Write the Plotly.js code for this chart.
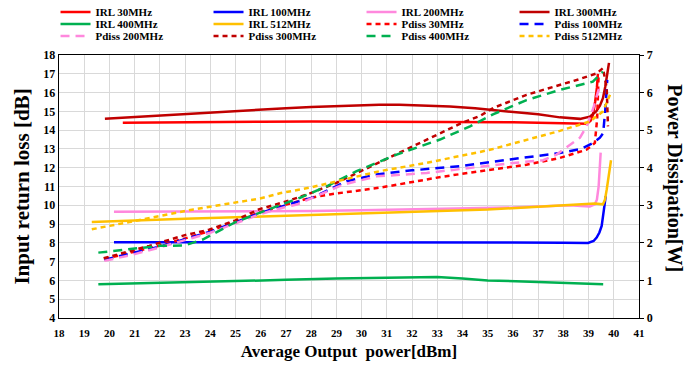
<!DOCTYPE html>
<html>
<head>
<meta charset="utf-8">
<script src="https://cdn.plot.ly/plotly-3.0.1.min.js"></script>
<style>html,body{margin:0;padding:0;background:#fff;}#chart{width:686px;height:367px;}</style>
</head>
<body>
<div id="chart"></div>
<script>
// ---- data ----
const irl30_x = [20.53, 22, 24, 26, 28, 30, 32, 34, 36, 37.5, 38.5, 38.94, 39.08, 39.17, 39.26, 39.33, 39.37];
const irl30_y = [14.4, 14.42, 14.44, 14.45, 14.46, 14.46, 14.46, 14.46, 14.42, 14.38, 14.34, 14.34, 14.5, 14.8, 15.5, 16.25, 17.0];

const irl100_x = [20.18, 22, 24, 26, 28, 30, 32, 34, 36, 38, 38.98, 39.2, 39.32, 39.43, 39.52, 39.61, 39.68];
const irl100_y = [8.03, 8.03, 8.03, 8.04, 8.05, 8.05, 8.05, 8.04, 8.02, 8.0, 7.99, 8.1, 8.28, 8.55, 8.9, 9.78, 10.49];

const irl200_x = [20.18, 22, 24, 26, 28, 30, 32, 34, 36, 37, 38.26, 38.7, 39.05, 39.25, 39.33, 39.4, 39.45, 39.48];
const irl200_y = [9.66, 9.66, 9.67, 9.68, 9.7, 9.73, 9.77, 9.81, 9.88, 9.94, 10.0, 9.96, 9.93, 10.05, 10.3, 11.0, 11.9, 12.8];

const irl300_x = [19.82, 21, 22, 23, 24, 25, 26, 27, 28, 29, 30, 30.7, 31.5, 32.5, 33.5, 34.5, 35.2, 36, 37, 37.86, 38.66, 39.05, 39.3, 39.45, 39.57, 39.66, 39.73, 39.81];
const irl300_y = [14.6, 14.7, 14.78, 14.86, 14.94, 15.02, 15.1, 15.17, 15.23, 15.28, 15.32, 15.35, 15.35, 15.32, 15.26, 15.16, 15.08, 14.98, 14.84, 14.68, 14.6, 14.72, 15.0, 15.3, 15.7, 16.3, 16.94, 17.58];

const irl400_x = [19.56, 21, 23, 25, 27, 29, 31, 32, 33, 34, 35, 37, 39.58];
const irl400_y = [5.79, 5.83, 5.88, 5.95, 6.03, 6.1, 6.15, 6.18, 6.18, 6.1, 6.0, 5.92, 5.8];

const irl512_x = [19.3, 21, 23, 25, 27, 29, 31, 33, 35, 37, 37.86, 38.6, 39.25, 39.57, 39.65, 39.72, 39.8, 39.85, 39.89];
const irl512_y = [9.11, 9.2, 9.28, 9.36, 9.44, 9.52, 9.6, 9.68, 9.77, 9.92, 9.99, 10.05, 10.1, 10.05, 10.3, 10.84, 11.5, 12.08, 12.4];

const pd30_x = [19.8, 21, 22, 23, 24, 25, 26, 27, 28, 28.74, 29.41, 30.73, 32.1, 33.2, 34.42, 35.5, 36.54, 37.86, 38.92, 39.25, 39.34, 39.4];
const pd30_y = [1.57, 1.76, 1.93, 2.12, 2.32, 2.57, 2.82, 3.02, 3.2, 3.29, 3.35, 3.47, 3.63, 3.76, 3.88, 3.98, 4.08, 4.26, 4.48, 4.66, 5.3, 6.5];

const pd100_x = [19.8, 21, 22, 23, 24, 25, 26, 27, 28.07, 29.41, 30.6, 32, 33.9, 35.88, 37.86, 38.7, 39.19, 39.45, 39.58, 39.68, 39.72, 39.74];
const pd100_y = [1.55, 1.73, 1.9, 2.1, 2.3, 2.55, 2.8, 3.0, 3.21, 3.64, 3.82, 3.93, 4.04, 4.22, 4.39, 4.5, 4.66, 4.8, 4.92, 5.67, 6.2, 6.34];

const pd200_x = [19.8, 21, 22, 23, 24, 25, 26, 27, 27.43, 29.26, 30.6, 32.58, 33.62, 35, 36.5, 37.2, 37.73, 38.26, 38.66, 38.92, 39.19, 39.45];
const pd200_y = [1.52, 1.7, 1.88, 2.07, 2.27, 2.52, 2.77, 2.96, 3.02, 3.55, 3.77, 3.86, 3.95, 4.05, 4.16, 4.2, 4.35, 4.61, 4.8, 5.1, 5.59, 6.2];

const pd300_x = [19.77, 21.58, 22.96, 23.95, 25, 25.92, 27, 27.89, 29.01, 30, 30.73, 32, 33, 34, 34.7, 35.22, 36.54, 37.86, 38.6, 39.32, 39.57, 39.72, 39.77];
const pd300_y = [1.59, 1.92, 2.2, 2.35, 2.6, 2.89, 3.1, 3.3, 3.6, 3.92, 4.16, 4.55, 4.88, 5.2, 5.38, 5.59, 5.94, 6.19, 6.35, 6.51, 6.65, 6.12, 5.1];

const pd400_x = [19.56, 20.41, 21.99, 22.98, 23.7, 24.96, 25.95, 27.56, 28.6, 29.8, 31.39, 33.11, 34.3, 35.21, 36.54, 37.86, 39.17, 39.57];
const pd400_y = [1.74, 1.8, 1.92, 1.93, 2.09, 2.54, 2.8, 3.2, 3.5, 3.91, 4.35, 4.75, 5.1, 5.42, 5.8, 6.07, 6.29, 6.56];

const pd512_x = [19.3, 20.68, 22.0, 23.33, 25.97, 26.76, 27.95, 30.73, 32.5, 33.9, 34.7, 35.21, 36.56, 37.86, 39.05, 39.57, 39.85];
const pd512_y = [2.36, 2.54, 2.71, 2.89, 3.18, 3.32, 3.47, 3.91, 4.12, 4.3, 4.42, 4.5, 4.75, 4.98, 5.23, 5.5, 5.94];

const xTicks = [18,19,20,21,22,23,24,25,26,27,28,29,30,31,32,33,34,35,36,37,38,39,40,41];

// ---- styling ----
const C = {r:'#FF0000', b:'#0000FF', p:'#FF88DD', dr:'#C00000', g:'#00B050', o:'#FFC000'};
const FONT = 'Liberation Serif, Times New Roman, serif';
const SHORT = '5px,4px';
const LONG = '9px,6px';

function tr(name, x, y, color, axis, dash, legend) {
  return {
    type: 'scatter', mode: 'lines', name: name, x: x, y: y,
    yaxis: axis, legend: legend,
    line: {color: color, width: 2.5, dash: dash || 'solid'},
    hoverinfo: 'skip'
  };
}

const data = [
  tr('IRL 30MHz', irl30_x, irl30_y, C.r, 'y', null, 'legend'),
  tr('IRL 100MHz', irl100_x, irl100_y, C.b, 'y', null, 'legend'),
  tr('IRL 200MHz', irl200_x, irl200_y, C.p, 'y', null, 'legend'),
  tr('IRL 300MHz', irl300_x, irl300_y, C.dr, 'y', null, 'legend'),
  tr('IRL 400MHz', irl400_x, irl400_y, C.g, 'y', null, 'legend2'),
  tr('IRL 512MHz', irl512_x, irl512_y, C.o, 'y', null, 'legend2'),
  tr('Pdiss 30MHz', pd30_x, pd30_y, C.r, 'y2', SHORT, 'legend2'),
  tr('Pdiss 100MHz', pd100_x, pd100_y, C.b, 'y2', LONG, 'legend2'),
  tr('Pdiss 200MHz', pd200_x, pd200_y, C.p, 'y2', LONG, 'legend3'),
  tr('Pdiss 300MHz', pd300_x, pd300_y, C.dr, 'y2', SHORT, 'legend3'),
  tr('Pdiss 400MHz', pd400_x, pd400_y, C.g, 'y2', LONG, 'legend3'),
  tr('Pdiss 512MHz', pd512_x, pd512_y, C.o, 'y2', SHORT, 'legend3')
];

// legend rows placed above the plot area (paper coordinates)
function leg(yc) {
  return {
    orientation: 'h', xref: 'paper', yref: 'paper',
    x: -0.006, xanchor: 'left', y: yc, yanchor: 'middle',
    entrywidth: 108, entrywidthmode: 'pixels',
    font: {family: FONT, size: 11, color: '#000', weight: 'bold'},
    bgcolor: 'rgba(0,0,0,0)', borderwidth: 0, itemwidth: 30,
    tracegroupgap: 0, itemclick: false
  };
}

const layout = {
  width: 686, height: 367,
  margin: {l: 59, r: 47, t: 55, b: 49, autoexpand: false},
  paper_bgcolor: '#fff', plot_bgcolor: '#fff',
  font: {family: FONT, color: '#000', weight: 'bold'},
  showlegend: true,
  legend: leg(1.1635),
  legend2: leg(1.118),
  legend3: leg(1.072),
  xaxis: {
    range: [18, 41], tickvals: xTicks, ticktext: xTicks.map(String),
    showgrid: true, gridcolor: '#D9D9D9', gridwidth: 1,
    showline: true, linecolor: '#000', linewidth: 1.3, mirror: true,
    zeroline: false, ticks: '', ticklabelstandoff: 4,
    tickfont: {family: FONT, size: 11, color: '#000', weight: 'bold'},
    title: {text: 'Average Output  power[dBm]', font: {family: FONT, size: 17, color: '#000', weight: 'bold'}, standoff: 7},
    automargin: false
  },
  yaxis: {
    range: [4, 18], dtick: 1, tick0: 4,
    showgrid: true, gridcolor: '#D9D9D9', gridwidth: 1,
    showline: true, linecolor: '#000', linewidth: 1.3,
    zeroline: false, ticks: '',
    tickfont: {family: FONT, size: 12, color: '#000', weight: 'bold'},
    title: {text: 'Input return loss [dB]', font: {family: FONT, size: 21, color: '#000', weight: 'bold'}, standoff: 8},
    automargin: false
  },
  yaxis2: {
    range: [0, 7], dtick: 1, tick0: 0, overlaying: 'y', side: 'right',
    showgrid: false, showline: true, linecolor: '#000', linewidth: 1.3,
    zeroline: false, ticks: 'outside', ticklen: 4, tickcolor: '#000',
    tickfont: {family: FONT, size: 12, color: '#000', weight: 'bold'},
    automargin: false
  },
  annotations: [{
    text: 'Power Dissipation[W]', xref: 'paper', yref: 'paper',
    x: 1.061, y: 0.53, xanchor: 'center', yanchor: 'middle',
    textangle: 90, showarrow: false,
    font: {family: FONT, size: 20, color: '#000', weight: 'bold'}
  }]
};

Plotly.newPlot('chart', data, layout, {displayModeBar: false, staticPlot: true});
</script>
</body>
</html>
